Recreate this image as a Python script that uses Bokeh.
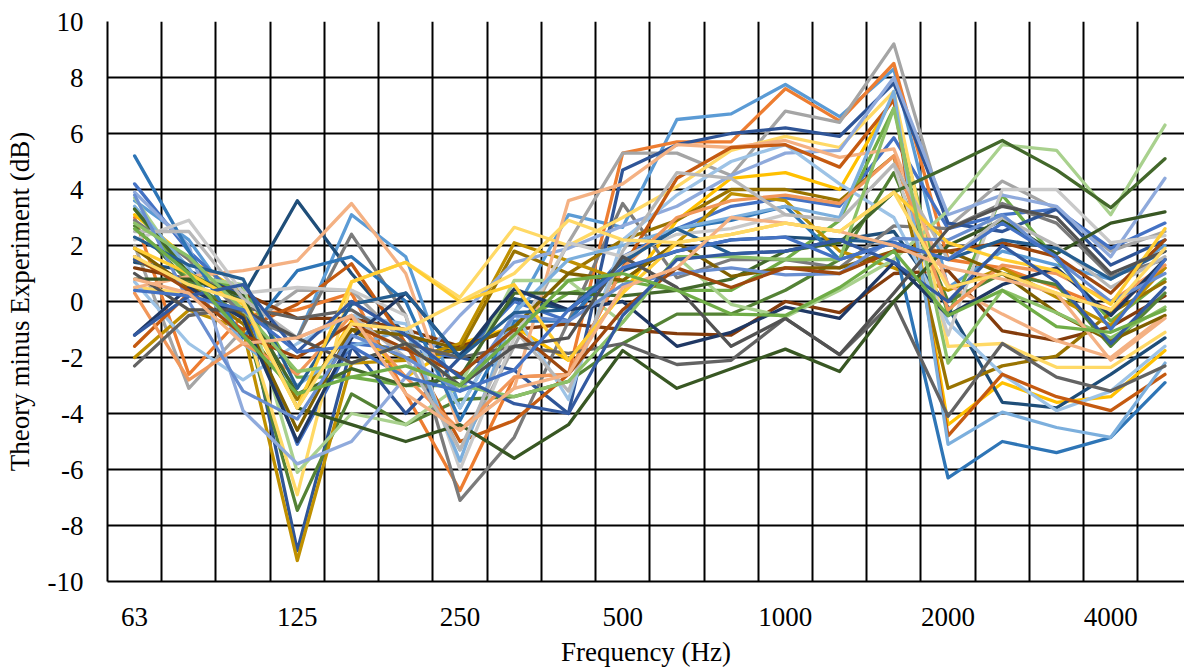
from bokeh.plotting import figure
from bokeh.models import Range1d, FixedTicker
from bokeh.embed import file_html
from bokeh.resources import INLINE

bands = ["63", "80", "100", "125", "160", "200", "250", "315", "400", "500",
         "630", "800", "1000", "1250", "1600", "2000", "2500", "3150", "4000", "5000"]
label_bands = ["63", "125", "250", "500", "1000", "2000", "4000"]
y_ticks = [-10, -8, -6, -4, -2, 0, 2, 4, 6, 8, 10]

s01 = [3.6, 2.2, -0.5, -1.3, 3.1, 1.6, -3.8, -0.4, 3.1, 2.65, 6.5, 6.7, 7.75, 6.6, 8.3, 0.5, 1.8, 1.3, 0.8, 2.0]
s02 = [3.0, -2.6, -0.5, -0.3, 0.3, -3.3, -6.75, -2.7, -2.6, 5.3, 5.7, 5.7, 7.6, 6.45, 8.5, 1.5, 1.2, 0.5, -0.3, 1.2]
s03 = [2.0, -3.1, -1.0, 0.4, 0.4, -1.5, -5.3, -1.6, 2.1, 5.3, 5.3, 4.5, 6.8, 6.4, 9.2, 2.65, 4.3, 3.3, 1.8, 2.5]
s04 = [3.1, 1.5, 0.3, -3.8, -0.7, -2.7, -1.5, -0.9, -2.1, 0.3, 2.9, 4.4, 4.6, 4.0, 7.3, -4.4, -2.9, -3.6, -3.4, -1.75]
s05 = [4.2, 1.8, 0.0, -5.1, -1.5, -1.7, -2.0, 0.0, -0.7, 1.6, 2.6, 3.4, 3.7, 3.4, 5.85, 2.6, 3.1, 3.3, 1.9, 2.8]
s06 = [3.3, 0.8, 0.5, -2.7, -2.7, -3.0, -3.0, -0.9, 0.3, 0.75, 0.4, 0.4, 1.5, 2.9, 6.9, -0.5, 3.8, 1.5, -0.7, 0.8]
s07 = [1.4, 1.1, 0.2, 3.6, 1.0, -1.2, -1.9, 0.1, -0.3, 1.1, 1.8, 2.2, 2.3, 2.2, 2.5, -0.2, -3.6, -3.8, -2.6, -1.3]
s08 = [1.2, 0.8, 0.3, -0.6, -0.6, -1.0, -1.6, -1.0, -0.8, -1.0, -1.15, -1.2, 0.0, -0.4, 1.0, 1.1, -1.05, -1.4, -0.9, 0.2]
s09 = [2.9, 1.5, -0.5, -1.3, 2.4, -0.5, -7.1, -4.85, -0.7, 3.5, 0.85, 1.5, 1.5, 1.2, 2.7, 2.6, 3.5, 2.8, 0.9, 1.5]
s10 = [1.5, 0.6, -0.8, -3.5, -1.0, -2.1, -1.7, 1.8, 1.0, 2.2, 2.9, 4.0, 4.0, 3.6, 5.2, -3.1, -2.3, -1.95, -0.4, 0.7]
s11 = [1.5, 0.7, 0.3, -8.9, -1.6, -4.0, -2.0, -2.45, -4.0, 4.7, 5.6, 6.0, 6.2, 5.9, 7.8, 2.8, 2.5, 3.3, 1.3, 2.2]
s12 = [2.7, 0.7, -0.5, -7.46, -3.3, -4.4, -3.5, -3.4, -2.85, -1.5, -0.45, -0.45, 0.4, 1.5, 4.6, 0.0, 1.0, 0.6, -1.6, 0.3]
s13 = [-2.0, -0.3, -1.0, -9.25, -2.2, -2.1, -1.5, 2.1, 1.45, 0.75, 2.1, 3.85, 3.6, 1.8, 1.2, 0.4, 1.2, 0.15, -0.85, 1.2]
s14 = [0.5, 0.3, -0.5, -6.9, 0.7, 1.4, 0.15, 2.65, 2.0, 3.0, 4.1, 5.4, 5.9, 5.5, 7.5, -1.6, -1.5, -2.35, -2.35, -1.1]
s15 = [3.7, 0.9, 0.6, -6.1, -4.0, -4.4, -3.0, 0.75, 0.75, -0.75, 1.6, -0.1, -0.55, 0.4, 1.5, 3.25, 5.6, 5.4, 3.1, 6.3]
s16 = [3.9, 2.0, -3.9, -5.8, -5.0, -2.7, -0.5, 1.4, 1.9, 2.7, 3.4, 4.5, 5.3, 5.4, 8.0, 3.1, 3.8, 3.4, 1.6, 4.4]
s17 = [0.7, -1.5, -2.8, -1.5, -0.5, -0.8, -3.8, -0.4, -3.5, 2.2, 3.8, 5.0, 5.6, 4.2, 3.0, -0.75, -2.6, -3.9, -3.2, -1.6]
s18 = [0.5, 0.9, 1.1, 1.45, 3.5, 1.0, -4.6, -3.1, 3.6, 4.2, 5.6, 5.5, 5.75, 5.15, 5.45, 0.6, -0.45, -1.4, -2.0, -0.5]
s19 = [-1.6, 0.3, -1.0, -0.1, 1.35, -1.5, -5.0, -4.25, -2.6, 1.2, 4.4, 5.5, 5.6, 4.8, 7.2, -4.8, -2.6, -3.4, -3.9, -2.6]
s20 = [5.2, 1.8, -1.3, 1.1, 1.6, 0.0, -4.25, -0.7, -0.7, 1.5, 2.6, 2.9, 3.4, 1.5, 2.1, -6.3, -5.0, -5.4, -4.85, -2.9]
s21 = [2.2, 2.9, 0.3, 0.5, 0.4, -0.5, -6.0, -1.3, 2.1, 1.6, 2.4, 2.6, 3.1, 2.9, 4.9, -1.2, 4.0, 4.0, 2.1, 2.35]
s22 = [3.4, 1.2, -1.5, -3.0, -1.6, -1.0, -5.7, -0.4, 1.5, 2.0, 2.6, 3.0, 3.4, 3.0, 7.5, -5.1, -3.95, -4.5, -4.85, -2.2]
s23 = [0.3, -2.8, -1.5, -2.6, -0.5, -2.7, -4.6, -2.7, -2.6, 1.2, 3.0, 3.6, 3.8, 3.5, 5.2, -0.3, 1.3, 1.0, 0.0, 1.3]
s24 = [-2.3, -0.5, -0.2, -0.6, -0.3, -1.5, -2.0, -1.6, -1.85, -1.5, -2.25, -2.1, -0.6, -1.9, 0.0, -4.1, -1.5, -2.7, -3.2, -2.3]
s25 = [0.8, 0.8, 0.2, -3.8, -4.4, -5.0, -4.4, -5.6, -4.4, -1.75, -3.1, -2.4, -1.7, -2.5, 0.0, 2.0, 2.9, 1.7, 2.8, 3.2]
s26 = [3.3, 1.0, 0.0, -3.3, -2.4, -3.0, -2.7, 0.3, 0.3, 0.2, 0.4, 0.8, 1.8, 2.1, 3.9, 4.8, 5.75, 4.7, 3.35, 5.1]
s27 = [1.9, 0.5, -0.5, -4.6, -1.0, -1.2, -1.7, -0.9, 1.0, 0.75, 2.1, 0.9, 1.2, 1.2, 1.8, 1.8, 1.0, -0.4, -1.4, -0.5]
s28 = [-1.2, 0.5, -0.6, -5.0, -1.3, 0.3, -2.0, 0.45, -0.3, 0.0, -1.6, -1.1, -0.2, -0.6, 1.4, -0.5, 0.6, 1.2, -0.5, 1.5]
s29 = [2.5, 2.5, 0.1, -1.3, -0.5, -2.0, -5.3, -1.0, -3.2, 1.8, 4.6, 4.4, 3.1, 2.9, 4.9, 1.5, 3.0, 2.0, 0.5, 1.6]
s30 = [3.8, 0.0, -3.2, -4.2, -1.2, -2.0, -3.2, -0.5, -0.7, 0.6, 1.0, 1.2, 0.95, 1.0, 2.25, 2.2, 3.1, 1.5, 0.0, 1.0]
s31 = [1.6, 0.4, -1.2, -2.0, -0.8, -1.7, -2.6, -1.0, -2.6, -0.3, 1.2, 0.5, 1.2, 1.0, 1.8, 1.8, 2.1, 1.6, 0.3, 2.2]
s32 = [2.3, 1.3, 0.8, -3.1, -0.1, 0.3, -2.0, -0.4, -0.3, 1.4, 2.6, 1.7, 1.8, 2.2, 2.1, 1.5, 2.2, 1.9, 0.8, 1.8]
s33 = [1.9, 1.0, -0.1, -3.8, 0.7, 1.4, 0.0, 0.6, -2.1, 0.3, 2.1, 2.4, 2.8, 2.5, 3.9, 2.1, 1.5, 1.1, -0.1, 2.6]
s34 = [2.8, 1.6, -0.3, -2.5, -2.2, -1.5, -3.0, -3.4, -2.85, -0.75, 1.6, 1.6, 1.5, 1.5, 6.9, -2.2, 0.4, -0.4, -1.3, -0.2]
s35 = [-1.2, 0.2, 0.6, -1.8, 0.0, -1.2, -2.7, -3.65, -4.0, -0.5, 1.5, 1.7, 1.8, 2.2, 1.4, 0.0, 2.0, 0.7, -1.5, 0.5]
s36 = [1.0, -0.3, -0.3, -1.3, -2.2, -1.5, -3.0, -1.6, -1.3, 1.6, 0.5, -1.6, -0.6, -1.9, 0.3, 2.6, 3.4, 3.0, 1.0, 1.8]
s37 = [0.4, 0.2, -0.3, -1.8, -1.6, -2.7, -3.2, -2.45, -0.3, 1.2, 1.8, 2.2, 2.3, 1.5, 2.1, 1.5, 2.8, 1.6, -1.0, 1.5]
s38 = [0.8, 0.3, -1.5, -1.3, -0.5, -3.3, -4.6, -3.1, -2.6, 0.5, 1.2, 3.0, 2.8, 2.5, 2.0, 1.2, 0.8, 0.3, -2.1, -0.6]
s39 = [2.6, 1.0, -1.2, -3.3, -2.7, -2.3, -3.0, -1.2, 0.75, 1.0, 0.4, -0.45, -0.5, 0.5, 1.8, -0.5, 0.4, -0.9, -1.1, -0.3]
s40 = [1.6, 0.6, 0.0, -3.8, -0.8, -1.0, 0.0, 1.0, 2.9, 2.2, 2.1, 2.4, 2.8, 2.5, 3.9, 0.5, 1.0, 0.3, -0.3, 1.9]

series = [s01, s02, s03, s04, s05, s06, s07, s08, s09, s10,
          s11, s12, s13, s14, s15, s16, s17, s18, s19, s20,
          s21, s22, s23, s24, s25, s26, s27, s28, s29, s30,
          s31, s32, s33, s34, s35, s36, s37, s38, s39, s40]

colors = ["#5B9BD5", "#ED7D31", "#A5A5A5", "#FFC000", "#4472C4", "#70AD47",
          "#1F4E79", "#843C0C", "#7B7B7B", "#997300", "#2F5597", "#548235",
          "#BF9000", "#FFD966", "#A9D18E", "#8FAADC", "#9DC3E6", "#F4B183",
          "#C55A11", "#2E75B6", "#C9C9C9", "#7CAFDD", "#F1975A", "#636363",
          "#385723", "#43682B", "#7F6000", "#1F3864", "#B7B7B7", "#698ED0",
          "#9E480E", "#255E91", "#FFCD33", "#8CC168", "#335AA1", "#525252",
          "#4472C4", "#F4B183", "#70AD47", "#FFD966"]

FONT = "Liberation Serif"

p = figure(width=1184, height=669, output_backend="svg", toolbar_location=None,
           x_range=Range1d(-0.5, 19.36), y_range=Range1d(-10, 10),
           min_border_left=107, min_border_right=0, min_border_top=21, min_border_bottom=88)
p.outline_line_color = None
p.background_fill_color = "white"
p.border_fill_color = "white"

xs = list(range(len(bands)))
for s, c in zip(series, colors):
    p.line(xs, s, line_color=c, line_width=3.3, line_join="round", line_cap="round")

# axes
p.xaxis.ticker = FixedTicker(ticks=[bands.index(b) for b in label_bands])
p.xaxis.major_label_overrides = {bands.index(b): b for b in label_bands}
p.yaxis.ticker = FixedTicker(ticks=y_ticks)
p.yaxis.major_label_overrides = {v: str(v) for v in y_ticks}

p.xgrid.ticker = FixedTicker(ticks=[k - 0.5 for k in range(len(bands) + 1)])
for g in (p.xgrid, p.ygrid):
    g.grid_line_color = "black"
    g.grid_line_width = 2

for ax in (p.xaxis, p.yaxis):
    ax.axis_line_color = "black"
    ax.axis_line_width = 2
    ax.major_tick_line_color = None
    ax.minor_tick_line_color = None
    ax.major_tick_out = 0
    ax.major_tick_in = 0
    ax.major_label_text_font = FONT
    ax.major_label_text_font_size = "27px"
    ax.major_label_text_color = "black"
    ax.axis_label_text_font = FONT
    ax.axis_label_text_font_size = "27px"
    ax.axis_label_text_font_style = "normal"
    ax.axis_label_text_color = "black"

p.xaxis.axis_label = "Frequency (Hz)"
p.yaxis.axis_label = "Theory minus Experiment (dB)"
p.xaxis.major_label_standoff = 26
p.xaxis.axis_label_standoff = 8
p.yaxis.major_label_standoff = 24
p.yaxis.axis_label_standoff = 10

open("out.html", "w").write(file_html(p, INLINE))
